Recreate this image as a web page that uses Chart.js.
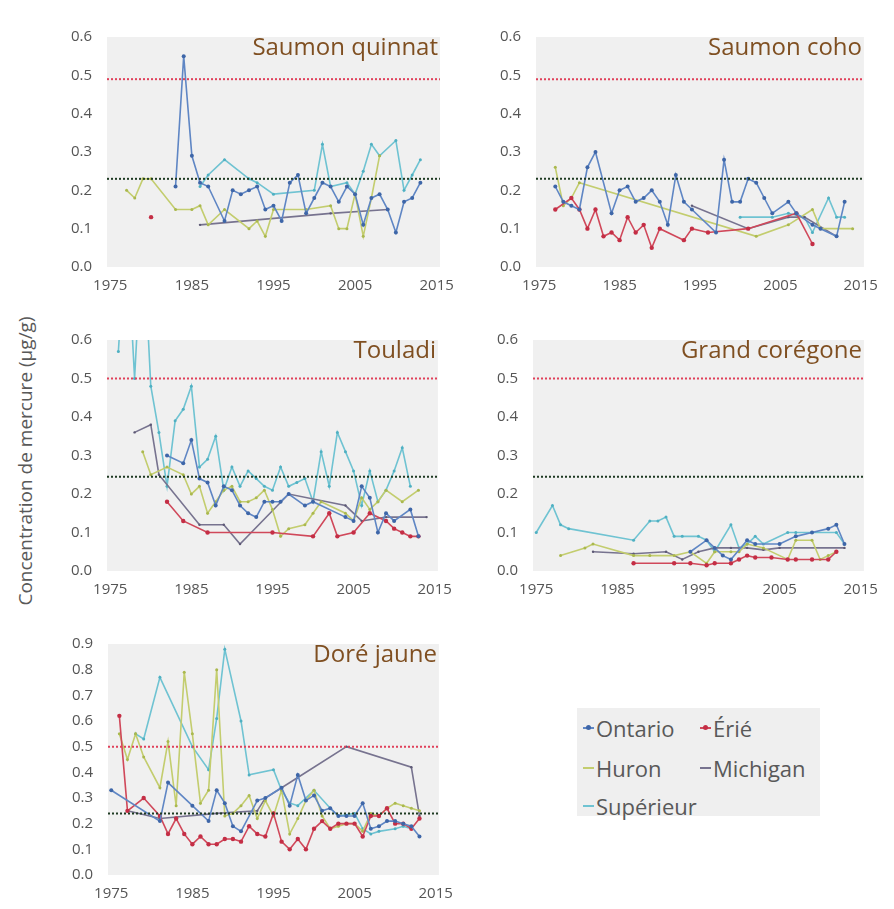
<!DOCTYPE html>
<html>
<head>
<meta charset="utf-8">
<script src="https://cdn.jsdelivr.net/npm/chart.js@4"></script>
<style>
    body { margin: 0; background: #fff; width: 894px; height: 909px; position: relative; overflow: hidden; font-family: 'Open Sans', sans-serif; }
    canvas { position: absolute; }
    .title { position: absolute; color: #7f4f21; font-size: 24px; white-space: nowrap; transform: translate(-100%, -50%); }
    #ylabel { position: absolute; left: 25px; top: 461px; transform: translate(-50%, -50%) rotate(-90deg); font-size: 19px; color: #595959; white-space: nowrap; }
    #legend { position: absolute; left: 577px; top: 708px; width: 243px; height: 108px; background: #efefef; }
    .item { position: absolute; font-size: 22px; color: #595959; white-space: nowrap; transform: translateY(-50%); display: flex; align-items: center; }
    .mark { position: relative; width: 11px; height: 2px; margin-right: 2px; }
    .mark i { position: absolute; left: 3px; top: -2px; width: 5px; height: 5px; border-radius: 50%; }
</style>
</head>
<body>
<div id="ylabel">Concentration de mercure (µg/g)</div>
<div id="legend"></div>
<script>
// --- DATA ---
const yearTicks = [1975, 1985, 1995, 2005, 2015];
const lakes = ['Ontario', 'Érié', 'Huron', 'Michigan', 'Supérieur'];
const species = ['Saumon quinnat', 'Saumon coho', 'Touladi', 'Grand corégone', 'Doré jaune'];
const yMaxes = [0.6, 0.6, 0.6, 0.6, 0.9];
const limitRed = [0.49, 0.49, 0.50, 0.50, 0.50];
const limitDark = [0.23, 0.23, 0.245, 0.245, 0.24];

// Saumon quinnat
const quinnatOntario = [[1983,0.21],[1984,0.55],[1985,0.29],[1986,0.22],[1987,0.21],[1989,0.12],[1990,0.20],[1991,0.19],[1992,0.20],[1993,0.21],[1994,0.15],[1995,0.16],[1996,0.12],[1997,0.22],[1998,0.24],[1999,0.14],[2000,0.18],[2001,0.22],[2002,0.21],[2003,0.17],[2004,0.21],[2005,0.19],[2006,0.11],[2007,0.18],[2008,0.19],[2009,0.15],[2010,0.09],[2011,0.17],[2012,0.18],[2013,0.22]];
const quinnatErie = [[1980,0.13]];
const quinnatHuron = [[1977,0.20],[1978,0.18],[1979,0.23],[1980,0.23],[1983,0.15],[1985,0.15],[1986,0.16],[1987,0.11],[1989,0.15],[1992,0.10],[1993,0.12],[1994,0.08],[1995,0.15],[1999,0.15],[2002,0.16],[2003,0.10],[2004,0.10],[2005,0.19],[2006,0.08],[2007,0.18],[2008,0.29]];
const quinnatMichigan = [[1986,0.11],[2002,0.14],[2009,0.15]];
const quinnatSuperieur = [[1986,0.21],[1987,0.24],[1989,0.28],[1992,0.23],[1993,0.22],[1995,0.19],[2000,0.20],[2001,0.32],[2002,0.21],[2004,0.22],[2005,0.19],[2006,0.25],[2007,0.32],[2008,0.29],[2010,0.33],[2011,0.20],[2012,0.24],[2013,0.28]];

// Saumon coho
const cohoOntario = [[1977,0.21],[1978,0.17],[1979,0.16],[1980,0.15],[1981,0.26],[1982,0.30],[1984,0.14],[1985,0.20],[1986,0.21],[1987,0.17],[1988,0.18],[1989,0.20],[1990,0.17],[1991,0.11],[1992,0.24],[1993,0.17],[1994,0.15],[1997,0.09],[1998,0.28],[1999,0.17],[2000,0.17],[2001,0.23],[2002,0.22],[2003,0.18],[2004,0.14],[2006,0.17],[2007,0.14],[2009,0.11],[2010,0.10],[2012,0.08],[2013,0.17]];
const cohoErie = [[1977,0.15],[1979,0.18],[1980,0.15],[1981,0.10],[1982,0.15],[1983,0.08],[1984,0.09],[1985,0.07],[1986,0.13],[1987,0.09],[1988,0.11],[1989,0.05],[1990,0.10],[1993,0.07],[1994,0.10],[1996,0.09],[2001,0.10],[2007,0.14],[2009,0.06]];
const cohoHuron = [[1977,0.26],[1978,0.16],[1979,0.18],[1980,0.22],[2002,0.08],[2006,0.11],[2009,0.15],[2010,0.10],[2014,0.10]];
const cohoMichigan = [[1994,0.16],[2001,0.10],[2006,0.13],[2008,0.13],[2012,0.08]];
const cohoSuperieur = [[2000,0.13],[2004,0.13],[2006,0.14],[2008,0.13],[2009,0.09],[2011,0.18],[2012,0.13],[2013,0.13]];

// Touladi
const touladiOntario = [[1982,0.30],[1984,0.28],[1985,0.34],[1986,0.24],[1987,0.23],[1988,0.17],[1989,0.22],[1990,0.21],[1991,0.17],[1992,0.15],[1993,0.14],[1994,0.18],[1995,0.18],[1996,0.18],[1997,0.20],[1999,0.17],[2000,0.18],[2004,0.14],[2005,0.13],[2006,0.22],[2007,0.19],[2008,0.10],[2009,0.15],[2010,0.13],[2012,0.16],[2013,0.09]];
const touladiErie = [[1982,0.18],[1984,0.13],[1987,0.10],[1995,0.10],[2000,0.09],[2002,0.15],[2003,0.09],[2005,0.10],[2007,0.15],[2009,0.13],[2010,0.11],[2011,0.10],[2012,0.09],[2013,0.09]];
const touladiHuron = [[1979,0.31],[1980,0.25],[1982,0.27],[1984,0.25],[1985,0.20],[1986,0.22],[1987,0.15],[1988,0.18],[1989,0.21],[1990,0.22],[1991,0.18],[1992,0.18],[1993,0.19],[1994,0.21],[1995,0.16],[1996,0.09],[1997,0.11],[1999,0.12],[2000,0.15],[2001,0.18],[2004,0.15],[2005,0.13],[2006,0.19],[2007,0.16],[2008,0.18],[2009,0.21],[2011,0.18],[2013,0.21]];
const touladiMichigan = [[1978,0.36],[1980,0.38],[1981,0.25],[1986,0.12],[1989,0.12],[1991,0.07],[1997,0.20],[2004,0.17],[2006,0.13],[2009,0.14],[2014,0.14]];
const touladiSuperieur = [[1976,0.57],[1977,0.90],[1978,0.50],[1979,0.90],[1980,0.48],[1981,0.36],[1982,0.22],[1983,0.39],[1984,0.42],[1985,0.48],[1986,0.27],[1987,0.29],[1988,0.35],[1989,0.21],[1990,0.27],[1991,0.22],[1992,0.26],[1993,0.24],[1994,0.22],[1995,0.21],[1996,0.27],[1997,0.22],[1998,0.23],[1999,0.24],[2000,0.18],[2001,0.31],[2002,0.22],[2003,0.36],[2004,0.31],[2005,0.26],[2006,0.17],[2007,0.26],[2008,0.18],[2009,0.21],[2010,0.26],[2011,0.32],[2012,0.22]];

// Grand corégone
const coregoneOntario = [[1994,0.05],[1996,0.08],[1997,0.06],[1998,0.04],[1999,0.03],[2001,0.08],[2002,0.07],[2005,0.07],[2007,0.09],[2009,0.10],[2011,0.11],[2012,0.12],[2013,0.07]];
const coregoneErie = [[1987,0.02],[1992,0.02],[1994,0.02],[1996,0.015],[1997,0.02],[1999,0.02],[2000,0.03],[2001,0.04],[2002,0.035],[2004,0.035],[2006,0.03],[2007,0.03],[2009,0.03],[2011,0.03],[2012,0.05]];
const coregoneHuron = [[1978,0.04],[1981,0.06],[1982,0.07],[1987,0.04],[1989,0.04],[1992,0.04],[1994,0.05],[1996,0.02],[1997,0.05],[1999,0.05],[2000,0.05],[2001,0.07],[2003,0.06],[2006,0.03],[2007,0.08],[2009,0.08],[2010,0.03],[2011,0.04],[2012,0.05]];
const coregoneMichigan = [[1982,0.05],[1987,0.045],[1991,0.05],[1993,0.03],[1995,0.05],[1997,0.06],[1999,0.06],[2001,0.06],[2003,0.055],[2005,0.06],[2013,0.06]];
const coregoneSuperieur = [[1975,0.10],[1977,0.17],[1978,0.12],[1979,0.11],[1987,0.08],[1989,0.13],[1990,0.13],[1991,0.14],[1992,0.09],[1993,0.09],[1995,0.09],[1996,0.08],[1997,0.05],[1999,0.12],[2000,0.06],[2001,0.07],[2002,0.09],[2003,0.07],[2006,0.10],[2007,0.10],[2009,0.10],[2012,0.10],[2013,0.07]];

// Doré jaune
const doreOntario = [[1975,0.33],[1981,0.21],[1982,0.36],[1985,0.27],[1987,0.21],[1988,0.33],[1989,0.28],[1990,0.19],[1991,0.17],[1993,0.29],[1994,0.30],[1996,0.34],[1997,0.27],[1998,0.39],[1999,0.29],[2000,0.31],[2001,0.25],[2002,0.26],[2003,0.23],[2004,0.23],[2005,0.23],[2006,0.28],[2007,0.18],[2008,0.19],[2009,0.21],[2010,0.21],[2011,0.20],[2012,0.19],[2013,0.15]];
const doreErie = [[1976,0.62],[1977,0.25],[1979,0.30],[1981,0.23],[1982,0.16],[1983,0.22],[1984,0.16],[1985,0.12],[1986,0.15],[1987,0.12],[1988,0.12],[1989,0.14],[1990,0.14],[1991,0.13],[1992,0.19],[1993,0.16],[1994,0.15],[1995,0.24],[1996,0.13],[1997,0.10],[1998,0.14],[1999,0.10],[2000,0.18],[2001,0.21],[2002,0.18],[2003,0.20],[2004,0.20],[2005,0.20],[2006,0.15],[2007,0.23],[2008,0.23],[2009,0.26],[2010,0.20],[2011,0.20],[2012,0.18],[2013,0.22]];
const doreHuron = [[1976,0.55],[1977,0.45],[1978,0.55],[1979,0.46],[1981,0.34],[1982,0.52],[1983,0.27],[1984,0.79],[1985,0.55],[1986,0.28],[1987,0.33],[1988,0.80],[1989,0.23],[1990,0.24],[1991,0.27],[1992,0.31],[1993,0.22],[1994,0.29],[1995,0.23],[1996,0.33],[1997,0.16],[1998,0.22],[1999,0.29],[2000,0.33],[2001,0.23],[2002,0.18],[2003,0.19],[2004,0.20],[2005,0.20],[2006,0.17],[2007,0.24],[2008,0.23],[2009,0.26],[2010,0.28],[2011,0.27],[2012,0.26],[2013,0.25]];
const doreMichigan = [[1977,0.25],[1981,0.22],[1988,0.24],[1993,0.25],[1994,0.30],[1998,0.38],[2004,0.50],[2012,0.42],[2013,0.23]];
const doreSuperieur = [[1978,0.55],[1979,0.53],[1981,0.77],[1985,0.50],[1987,0.41],[1988,0.61],[1989,0.88],[1991,0.60],[1992,0.39],[1995,0.41],[1996,0.33],[1997,0.28],[1998,0.27],[2000,0.33],[2002,0.26],[2003,0.23],[2005,0.24],[2006,0.18],[2007,0.16],[2008,0.17],[2010,0.18],[2011,0.19],[2012,0.18]];

const panelSeries = [
    [quinnatOntario, quinnatErie, quinnatHuron, quinnatMichigan, quinnatSuperieur],
    [cohoOntario, cohoErie, cohoHuron, cohoMichigan, cohoSuperieur],
    [touladiOntario, touladiErie, touladiHuron, touladiMichigan, touladiSuperieur],
    [coregoneOntario, coregoneErie, coregoneHuron, coregoneMichigan, coregoneSuperieur],
    [doreOntario, doreErie, doreHuron, doreMichigan, doreSuperieur]
];

// --- STYLE / LAYOUT ---
const lineColors = ['#5f86c4', '#d0485a', '#c3cd6e', '#77738f', '#6fc3d2'];
const dotColors = ['#3e66a8', '#c42e45', '#aab84e', '#5d5975', '#4fb0c2'];
const dotSizes = [2, 2.2, 1.5, 1.2, 1.5];
const X_MIN = 1974.6, X_MAX = 2015.4;
const PAD_L = 50, PAD_T = 10, PAD_R = 16, PAD_B = 32;

// plot areas of the five panels (left, top, width, height)
const boxes = [
    [107, 23, 341, 244],
    [536, 23, 336, 244],
    [107, 326, 339, 245],
    [533, 326, 339, 245],
    [108, 630, 339, 245]
];

// grey plot background
const bgPlugin = {
    id: 'plotBg',
    beforeDraw(chart) {
        const a = chart.chartArea, c = chart.ctx;
        c.save();
        c.fillStyle = '#f0f0f0';
        c.fillRect(a.left, a.top, a.right - a.left, a.bottom - a.top);
        c.restore();
    }
};

function refLine(value, color) {
    return {
        data: [{x: X_MIN, y: value}, {x: X_MAX, y: value}],
        borderColor: color,
        borderWidth: 2,
        borderDash: [2, 2],
        pointRadius: 0,
        fill: false
    };
}

boxes.forEach((b, i) => {
    const cv = document.createElement('canvas');
    cv.width = PAD_L + b[2] + PAD_R;
    cv.height = PAD_T + b[3] + PAD_B;
    cv.style.left = (b[0] - PAD_L) + 'px';
    cv.style.top = (b[1] - PAD_T) + 'px';
    document.body.appendChild(cv);

    const datasets = [refLine(limitRed[i], '#e0405a'), refLine(limitDark[i], '#1e3a22')];
    panelSeries[i].forEach((s, k) => {
        datasets.push({
            label: lakes[k],
            data: s.map(p => ({x: p[0], y: p[1]})),
            borderColor: lineColors[k],
            borderWidth: 1.6,
            pointRadius: dotSizes[k],
            pointBorderWidth: 0,
            pointBackgroundColor: dotColors[k],
            tension: 0,
            fill: false
        });
    });

    new Chart(cv.getContext('2d'), {
        type: 'line',
        data: { datasets: datasets },
        options: {
            responsive: false,
            animation: false,
            layout: { padding: { top: PAD_T, right: PAD_R, left: 0, bottom: 0 } },
            plugins: { legend: { display: false }, tooltip: { enabled: false } },
            scales: {
                x: {
                    type: 'linear', min: X_MIN, max: X_MAX,
                    afterBuildTicks: ax => { ax.ticks = yearTicks.map(v => ({value: v})); },
                    afterFit: s => { s.height = PAD_B; },
                    grid: { display: false, drawTicks: false },
                    border: { display: false },
                    ticks: { padding: 10, color: '#555', autoSkip: false, maxRotation: 0,
                             font: { family: 'Open Sans', size: 15 }, callback: v => String(v) }
                },
                y: {
                    min: 0, max: yMaxes[i],
                    afterFit: s => { s.width = PAD_L; },
                    grid: { display: false, drawTicks: false },
                    border: { display: false },
                    ticks: { stepSize: 0.1, padding: 15, color: '#555',
                             font: { family: 'Open Sans', size: 15 }, callback: v => v.toFixed(1) }
                }
            }
        },
        plugins: [bgPlugin]
    });

    const t = document.createElement('div');
    t.className = 'title';
    t.textContent = species[i];
    t.style.left = (b[0] + b[2] - 10) + 'px';
    t.style.top = (b[1] + 22) + 'px';
    document.body.appendChild(t);
});

// legend
const legendPos = [[6, 20], [123, 20], [6, 60], [123, 60], [6, 98]];
const legend = document.getElementById('legend');
lakes.forEach((name, k) => {
    const it = document.createElement('div');
    it.className = 'item';
    it.style.left = legendPos[k][0] + 'px';
    it.style.top = legendPos[k][1] + 'px';
    const m = document.createElement('span');
    m.className = 'mark';
    m.style.background = lineColors[k];
    if (k < 2) {
        const d = document.createElement('i');
        d.style.background = dotColors[k];
        m.appendChild(d);
    }
    it.appendChild(m);
    it.appendChild(document.createTextNode(name));
    legend.appendChild(it);
});
</script>
</body>
</html>
